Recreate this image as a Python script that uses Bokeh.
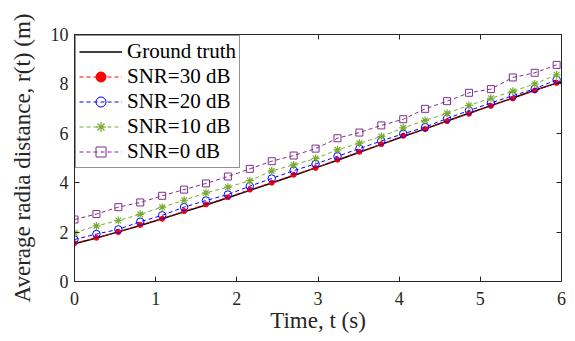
from bokeh.plotting import figure
from bokeh.models import Range1d, FixedTicker, LinearAxis, CustomLabelingPolicy
from bokeh.embed import file_html
from bokeh.resources import INLINE

# ---- data ----
t = [0.00, 0.27, 0.54, 0.81, 1.08, 1.35, 1.62, 1.89, 2.16, 2.43, 2.70, 2.97,
     3.24, 3.51, 3.78, 4.05, 4.32, 4.59, 4.86, 5.13, 5.40, 5.67, 5.94]
gt_t = [0.00, 0.27, 0.54, 0.81, 1.08, 1.35, 1.62, 1.89, 2.16, 2.43, 2.70, 2.97,
        3.24, 3.51, 3.78, 4.05, 4.32, 4.59, 4.86, 5.13, 5.40, 5.67, 5.94, 6.00]
ground_truth = [1.53, 1.76, 2.01, 2.27, 2.54, 2.82, 3.10, 3.39, 3.69, 3.99, 4.29, 4.60,
                4.91, 5.23, 5.55, 5.87, 6.18, 6.50, 6.81, 7.12, 7.43, 7.74, 8.03, 8.08]
snr30 = [1.55, 1.77, 2.00, 2.29, 2.54, 2.85, 3.12, 3.41, 3.72, 4.00, 4.32, 4.60,
         4.93, 5.25, 5.56, 5.90, 6.17, 6.49, 6.79, 7.11, 7.41, 7.73, 8.04]
snr20 = [1.70, 1.92, 2.11, 2.42, 2.68, 3.01, 3.28, 3.52, 3.86, 4.17, 4.49, 4.76,
         5.07, 5.38, 5.69, 5.98, 6.25, 6.60, 6.92, 7.23, 7.52, 7.80, 8.17]
snr10 = [1.97, 2.25, 2.47, 2.72, 3.01, 3.29, 3.59, 3.82, 4.08, 4.48, 4.72, 4.98,
         5.33, 5.60, 5.87, 6.22, 6.52, 6.81, 7.13, 7.42, 7.70, 8.00, 8.37]
snr0 = [2.51, 2.73, 3.01, 3.20, 3.47, 3.72, 3.97, 4.25, 4.56, 4.87, 5.10, 5.38,
        5.80, 6.03, 6.32, 6.57, 6.99, 7.30, 7.64, 7.79, 8.26, 8.45, 8.77]
xticks = [0, 1, 2, 3, 4, 5, 6]
yticks = [0, 2, 4, 6, 8, 10]
labels = ["Ground truth", "SNR=30 dB", "SNR=20 dB", "SNR=10 dB", "SNR=0 dB"]
XMIN, XMAX, YMIN, YMAX = 0, 6, 0, 10

FONT = "Liberation Serif"
AX = "#262626"
LBL = 23  # axis-label font size (px)
W, H = 575, 341

p = figure(width=W, height=H, x_range=Range1d(XMIN, XMAX), y_range=Range1d(YMIN, YMAX),
           output_backend="svg", toolbar_location=None,
           min_border_left=74, min_border_right=14, min_border_top=34, min_border_bottom=60)
p.grid.visible = False
p.outline_line_color = AX
p.background_fill_color = "white"
p.border_fill_color = "white"

xa = p.below[0]
ya = p.left[0]
top = LinearAxis()
right = LinearAxis()
p.add_layout(top, "above")
p.add_layout(right, "right")
xa.ticker = FixedTicker(ticks=xticks)
top.ticker = FixedTicker(ticks=xticks)
ya.ticker = FixedTicker(ticks=yticks)
right.ticker = FixedTicker(ticks=yticks)
for ax in (xa, ya, top, right):
    ax.axis_line_color = AX
    ax.axis_line_width = 1
    ax.major_tick_line_color = AX
    ax.major_tick_in = 5
    ax.major_tick_out = 0
    ax.minor_tick_line_color = None
    ax.major_label_text_font = FONT
    ax.major_label_text_color = AX
    ax.major_label_text_font_size = "18px"
for ax in (top, right):
    # box edges carry ticks only, no tick labels (and no reserved space)
    ax.major_label_policy = CustomLabelingPolicy(code="return []")
    ax.major_label_text_font_size = "0px"
    ax.major_label_standoff = 0
xa.major_label_standoff = 10
ya.major_label_standoff = 6

xa.axis_label = "Time, t (s)"
ya.axis_label = "Average radia distance, r(t) (m)"
for ax in (xa, ya):
    ax.axis_label_text_font = FONT
    ax.axis_label_text_font_size = f"{LBL}px"
    ax.axis_label_text_font_style = "normal"
    ax.axis_label_text_color = AX
xa.axis_label_standoff = 0
ya.axis_label_standoff = 13

# ---- series ----
p.line(gt_t, ground_truth, line_color="black", line_width=1.5, legend_label=labels[0])

p.line(t, snr30, line_color="red", line_width=1, line_dash="4 3", legend_label=labels[1])
p.scatter(t, snr30, marker="circle", size=5, fill_color="red", line_color="red",
          legend_label=labels[1])

p.line(t, snr20, line_color="blue", line_width=1, line_dash="4 3", legend_label=labels[2])
p.scatter(t, snr20, marker="circle", size=7.5, fill_color=None, line_color="blue",
          legend_label=labels[2])

p.line(t, snr10, line_color="#77AC30", line_width=1, line_dash="4 3", legend_label=labels[3])
p.scatter(t, snr10, marker="asterisk", size=8, line_color="#77AC30", line_width=1.2,
          legend_label=labels[3])

p.line(t, snr0, line_color="#7E2F8E", line_width=1, line_dash="4 3", legend_label=labels[4])
p.scatter(t, snr0, marker="square", size=7, fill_color=None, line_color="#7E2F8E",
          legend_label=labels[4])

lg = p.legend[0]
lg.location = "top_left"
lg.margin = 1
lg.padding = 3
lg.spacing = 0
lg.glyph_width = 43
lg.glyph_height = 25
lg.label_height = 25
lg.label_standoff = 5
lg.label_text_font = FONT
lg.label_text_font_size = "21px"
lg.label_text_color = "black"
lg.border_line_color = AX
lg.border_line_width = 1
lg.background_fill_alpha = 1

open("out.html", "w").write(file_html(p, INLINE))
